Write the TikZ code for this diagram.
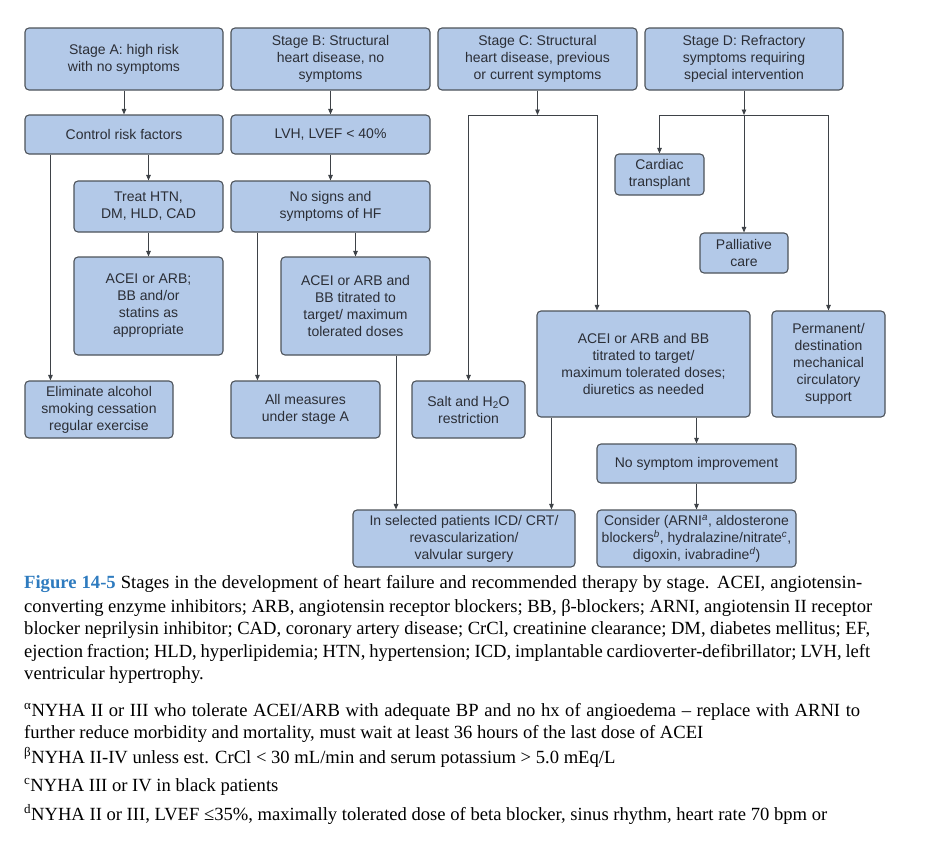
\documentclass[tikz,border=0pt]{standalone}
\usepackage{fontspec}
\setmainfont{Liberation Sans}
\newfontfamily\capfont{Liberation Serif}
\usetikzlibrary{arrows.meta}
\definecolor{boxfill}{HTML}{B3C9E8}
\definecolor{boxline}{HTML}{4D535A}
\definecolor{boxtext}{HTML}{2B2E36}
\definecolor{conn}{HTML}{3E4247}
\definecolor{figblue}{HTML}{2E7BBF}
\begin{document}
\begin{tikzpicture}[x=1pt,y=-1pt,
  box/.style 2 args={draw=boxline, line width=1.1pt, fill=boxfill, rounded corners=4pt,
    align=center, inner sep=0pt, text=boxtext, font=\fontsize{14}{17}\selectfont,
    minimum width=#1, minimum height=#2},
  arr/.style={draw=conn, line width=0.9pt, -{Triangle[length=5.5pt,width=4.5pt]}},
  ln/.style={draw=conn, line width=0.9pt},
  capline/.style={anchor=base west, inner sep=0pt, font=\capfont\fontsize{18.6}{22}\selectfont}]
\fill[white] (0,0) rectangle (930,862);
\useasboundingbox (0,0) rectangle (930,862);
% stage boxes
\node[box={198pt}{62pt}] (A) at (124,59) {Stage A: high risk\\with no symptoms};
\node[box={199pt}{62pt}] (B) at (330.5,59) {Stage B: Structural\\heart disease, no\\symptoms};
\node[box={199pt}{62pt}] (C) at (537.5,59) {Stage C: Structural\\heart disease, previous\\or current symptoms};
\node[box={198pt}{62pt}] (D) at (744,59) {Stage D: Refractory\\symptoms requiring\\special intervention};
% column A/B
\node[box={198pt}{39pt}] (Ctrl) at (124,134.5) {Control risk factors};
\node[box={199pt}{39pt}] (LVH) at (330.5,134.5) {LVH, LVEF < 40\%};
\node[box={149pt}{51pt}] (Treat) at (148.5,206.5) {Treat HTN,\\DM, HLD, CAD};
\node[box={199pt}{51pt}] (NoSigns) at (330.5,206.5) {No signs and\\symptoms of HF};
\node[box={149pt}{98pt}] (ACEIa) at (148.5,306) {ACEI or ARB;\\BB and/or\\statins as\\appropriate};
\node[box={149pt}{98pt}] (ACEIb) at (355.5,306) {ACEI or ARB and\\BB titrated to\\target/ maximum\\tolerated doses};
\node[box={148pt}{57pt}] (Elim) at (99,409.5) {Eliminate alcohol\\smoking cessation\\regular exercise};
\node[box={149pt}{57pt}] (AllM) at (305.5,409.5) {All measures\\under stage A};
\node[box={113pt}{57pt}] (Salt) at (468.5,409.5) {Salt and H\textsubscript{2}O\\restriction};
\node[box={222pt}{57pt}] (Sel) at (464,538.5) {In selected patients ICD/ CRT/\\revascularization/\\valvular surgery};
% column C/D
\node[box={213pt}{106pt}] (ACEIc) at (643.5,364) {ACEI or ARB and BB\\titrated to target/\\maximum tolerated doses;\\diuretics as needed};
\node[box={113pt}{106pt}] (Perm) at (828.5,364) {Permanent/\\destination\\mechanical\\circulatory\\support};
\node[box={89pt}{41pt}] (Cardiac) at (659.5,174.5) {Cardiac\\transplant};
\node[box={88pt}{40pt}] (Pall) at (744,253) {Palliative\\care};
\node[box={199pt}{39pt}] (NoSym) at (696.5,463.5) {No symptom improvement};
\node[box={199pt}{57pt}] (Consider) at (696.5,538.5) {Consider (ARNI\textsuperscript{\itshape a}, aldosterone\\blockers\textsuperscript{\itshape b}, hydralazine/nitrate\textsuperscript{\itshape c},\\digoxin, ivabradine\textsuperscript{\itshape d})};
% connectors A/B
\draw[arr] (A) -- (Ctrl);
\draw[arr] (B) -- (LVH);
\draw[arr] (Ctrl.south -| Treat.north) -- (Treat.north);
\draw[arr] (LVH) -- (NoSigns);
\draw[arr] (Treat) -- (ACEIa);
\draw[arr] ([xshift=26pt]Ctrl.south west) -- ([xshift=26pt]Ctrl.south west |- Elim.north);
\draw[arr] ([xshift=27pt]NoSigns.south west) -- ([xshift=27pt]NoSigns.south west |- AllM.north);
\draw[arr] (NoSigns.south -| ACEIb.north) -- (ACEIb.north);
\draw[arr] ([xshift=40.5pt]ACEIb.south) -- ([xshift=40.5pt]ACEIb.south |- Sel.north);
% stage C branches
\coordinate (cj) at (537.5,115);
\coordinate (cl) at (468.5,115);
\coordinate (cr) at (597,115);
\draw[arr] (C) -- (cj);
\draw[ln] (cl) -- (cr);
\draw[arr] (cl) -- (Salt);
\draw[arr] (cr) -- (cr |- ACEIc.north);
\draw[arr] ([xshift=15pt]ACEIc.south west) -- ([xshift=15pt]ACEIc.south west |- Sel.north);
\draw[arr] (ACEIc.south -| NoSym.north) -- (NoSym.north);
\draw[arr] (NoSym) -- (Consider);
% stage D branches
\coordinate (dj) at (744,115);
\coordinate (dl) at (659.5,115);
\coordinate (dr) at (828.5,115);
\draw[arr] (D) -- (dj);
\draw[ln] (dl) -- (dr);
\draw[arr] (dl) -- (Cardiac);
\draw[arr] (dj) -- (Pall);
\draw[arr] (dr) -- (Perm);
% caption
\node[capline] (cap1) at (24,588) {\makebox[838pt][s]{\textcolor{figblue}{\bfseries Figure 14-5} Stages in the development of heart failure and recommended therapy by stage. ACEI, angiotensin-}};
\node[capline] (cap2) at (24,612) {\makebox[848pt][s]{converting enzyme inhibitors; ARB, angiotensin receptor blockers; BB, β-blockers; ARNI, angiotensin II receptor}};
\node[capline] (cap3) at (24,634) {\makebox[846pt][s]{blocker neprilysin inhibitor; CAD, coronary artery disease; CrCl, creatinine clearance; DM, diabetes mellitus; EF,}};
\node[capline] (cap4) at (24,657) {\makebox[846pt][s]{ejection fraction; HLD, hyperlipidemia; HTN, hypertension; ICD, implantable cardioverter-defibrillator; LVH, left}};
\node[capline] (cap5) at (24,679) {ventricular hypertrophy.};
% footnotes
\node[capline] (fa1) at (24,716) {\makebox[836pt][s]{\textsuperscript{α}NYHA II or III who tolerate ACEI/ARB with adequate BP and no hx of angioedema – replace with ARNI to}};
\node[capline] (fa2) at (24,738) {further reduce morbidity and mortality, must wait at least 36 hours of the last dose of ACEI};
\node[capline] (fb) at (24,763) {\textsuperscript{β}NYHA II-IV unless est. CrCl < 30 mL/min and serum potassium > 5.0 mEq/L};
\node[capline] (fc) at (24,791) {\textsuperscript{c}NYHA III or IV in black patients};
\node[capline] (fd) at (24,820) {\textsuperscript{d}NYHA II or III, LVEF ≤35\%, maximally tolerated dose of beta blocker, sinus rhythm, heart rate 70 bpm or};
\end{tikzpicture}
\end{document}
